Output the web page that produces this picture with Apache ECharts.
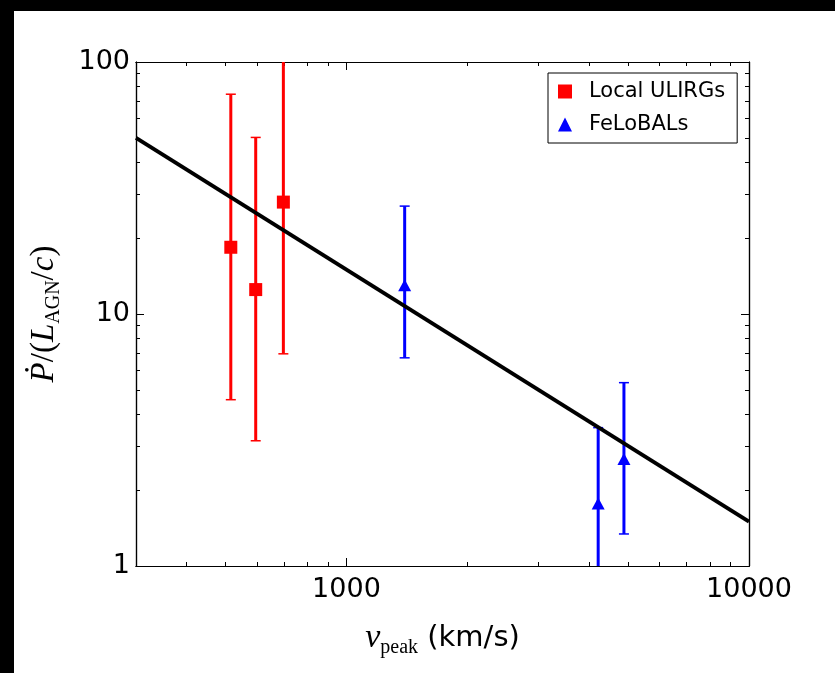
<!DOCTYPE html>
<html>
<head>
<meta charset="utf-8">
<script src="https://cdn.jsdelivr.net/npm/echarts@6/dist/echarts.min.js"></script>
<style>
  html, body { margin: 0; padding: 0; background: #000; width: 835px; height: 673px; overflow: hidden; }
  #chart { position: absolute; left: 14px; top: 11px; width: 821px; height: 662px; background: #fff; }
</style>
</head>
<body>
<div id="chart"></div>
<script>
// Local ULIRGs: [v_peak, P/(L/c), low, high]
const ulirgs = [
  [516, 18.4, 4.57, 74.5],
  [595, 12.5, 3.14, 50.2],
  [697, 27.8, 6.95, 140]
]
// FeLoBALs
const felobals = [
  [1395, 13.0, 6.7, 26.8],
  [4220, 1.77, 0.7, 3.54],
  [4890, 2.66, 1.34, 5.34]
]
// best fit line, P ~ 1/v
const fitLine = [[300, 50], [10000, 1.5]]

const xMajor = [1000, 10000]
const xMinor = [400, 500, 600, 700, 800, 900, 2000, 3000, 4000, 5000, 6000, 7000, 8000, 9000]
const yMajor = [1, 10, 100]
const yMinor = [2, 3, 4, 5, 6, 7, 8, 9, 20, 30, 40, 50, 60, 70, 80, 90]

const tickFont = { fontFamily: 'DejaVu Sans', fontSize: 27, color: '#000', formatter: v => String(v) }

function errorBar(color) {
  return function(params, api) {
    const x = api.value(0)
    const lo = api.coord([x, api.value(2)])
    const hi = api.coord([x, api.value(3)])
    const cs = params.coordSys
    const top = cs.y
    const bot = cs.y + cs.height
    const children = [{
      type: 'line',
      shape: { x1: lo[0], y1: Math.max(hi[1], top), x2: lo[0], y2: Math.min(lo[1], bot) },
      style: { stroke: color, lineWidth: 3 }
    }]
    if (hi[1] >= top) {
      children.push({ type: 'line', shape: { x1: hi[0] - 5, y1: hi[1], x2: hi[0] + 5, y2: hi[1] }, style: { stroke: color, lineWidth: 1.5 } })
    }
    if (lo[1] <= bot) {
      children.push({ type: 'line', shape: { x1: lo[0] - 5, y1: lo[1], x2: lo[0] + 5, y2: lo[1] }, style: { stroke: color, lineWidth: 1.5 } })
    }
    return { type: 'group', children }
  }
}

// one axis for major ticks (+labels), one for minor ticks, on each side
function xAxis(pos, ticks, len, labels) {
  return {
    type: 'log',
    logBase: 10,
    min: 300,
    max: 10000,
    position: pos,
    axisLine: { show: true, lineStyle: { color: '#000', width: 1.2 } },
    axisTick: { show: true, inside: true, length: len, customValues: ticks, lineStyle: { color: '#000', width: 1 } },
    axisLabel: labels ? Object.assign({ customValues: xMajor, margin: 10 }, tickFont) : { show: false },
    splitLine: { show: false },
    minorTick: { show: false }
  }
}
function yAxis(pos, ticks, len, labels) {
  return {
    type: 'log',
    logBase: 10,
    min: 1,
    max: 100,
    position: pos,
    axisLine: { show: true, lineStyle: { color: '#000', width: 1.2 } },
    axisTick: { show: true, inside: true, length: len, customValues: ticks, lineStyle: { color: '#000', width: 1 } },
    axisLabel: labels ? Object.assign({ customValues: yMajor, margin: 6 }, tickFont) : { show: false },
    splitLine: { show: false },
    minorTick: { show: false }
  }
}

const chart = echarts.init(document.getElementById('chart'))

const xMain = xAxis('bottom', xMajor, 8, true)
xMain.name = '{i|v}{s|peak}{n| (km/s)}'
xMain.nameLocation = 'middle'
xMain.nameGap = 52
xMain.nameTextStyle = {
  rich: {
    i: { fontFamily: 'Liberation Serif', fontStyle: 'italic', fontSize: 34, lineHeight: 40, color: '#000' },
    s: { fontFamily: 'Liberation Serif', fontSize: 20, lineHeight: 28, verticalAlign: 'bottom', color: '#000' },
    n: { fontFamily: 'DejaVu Sans', fontSize: 29, lineHeight: 40, color: '#000' }
  }
}

const yMain = yAxis('left', yMajor, 8, true)
yMain.name = '{i|Ṗ}{r|/(}{i|L}{s|AGN}{r|/}{i|c}{r|)}'
yMain.nameLocation = 'middle'
yMain.nameGap = 72
yMain.nameRotate = 90
yMain.nameTextStyle = {
  rich: {
    i: { fontFamily: 'Liberation Serif', fontStyle: 'italic', fontSize: 33, lineHeight: 40, color: '#000' },
    r: { fontFamily: 'Liberation Serif', fontSize: 33, lineHeight: 40, color: '#000' },
    s: { fontFamily: 'Liberation Serif', fontSize: 20, lineHeight: 28, verticalAlign: 'bottom', color: '#000' }
  }
}

chart.setOption({
  backgroundColor: '#fff',
  animation: false,
  grid: { left: 122, top: 51, right: 86, bottom: 107, containLabel: false },
  legend: {
    data: ['Local ULIRGs', 'FeLoBALs'],
    orient: 'vertical',
    left: 534,
    top: 62,
    padding: [8, 12, 8, 10],
    itemGap: 12,
    itemWidth: 14,
    itemHeight: 14,
    borderColor: '#000',
    borderWidth: 1,
    borderRadius: 0,
    backgroundColor: '#fff',
    textStyle: { fontFamily: 'DejaVu Sans', fontSize: 21, color: '#000', padding: [0, 0, 0, 12] }
  },
  xAxis: [
    xMain,
    xAxis('bottom', xMinor, 4, false),
    xAxis('top', xMajor, 8, false),
    xAxis('top', xMinor, 4, false)
  ],
  yAxis: [
    yMain,
    yAxis('left', yMinor, 4, false),
    yAxis('right', yMajor, 8, false),
    yAxis('right', yMinor, 4, false)
  ],
  series: [
    {
      type: 'custom',
      renderItem: errorBar('#ff0000'),
      data: ulirgs,
      encode: { x: 0, y: 1 },
      z: 2
    },
    {
      type: 'custom',
      renderItem: errorBar('#0000ff'),
      data: felobals,
      encode: { x: 0, y: 1 },
      z: 2
    },
    {
      type: 'line',
      data: fitLine,
      symbol: 'none',
      lineStyle: { color: '#000', width: 4 },
      z: 3
    },
    {
      name: 'Local ULIRGs',
      type: 'scatter',
      data: ulirgs.map(d => [d[0], d[1]]),
      symbol: 'rect',
      symbolSize: 13,
      itemStyle: { color: '#ff0000', opacity: 1 },
      z: 4
    },
    {
      name: 'FeLoBALs',
      type: 'scatter',
      data: felobals.map(d => [d[0], d[1]]),
      symbol: 'triangle',
      symbolSize: [13, 12],
      itemStyle: { color: '#0000ff', opacity: 1 },
      z: 4
    }
  ]
})
</script>
</body>
</html>
